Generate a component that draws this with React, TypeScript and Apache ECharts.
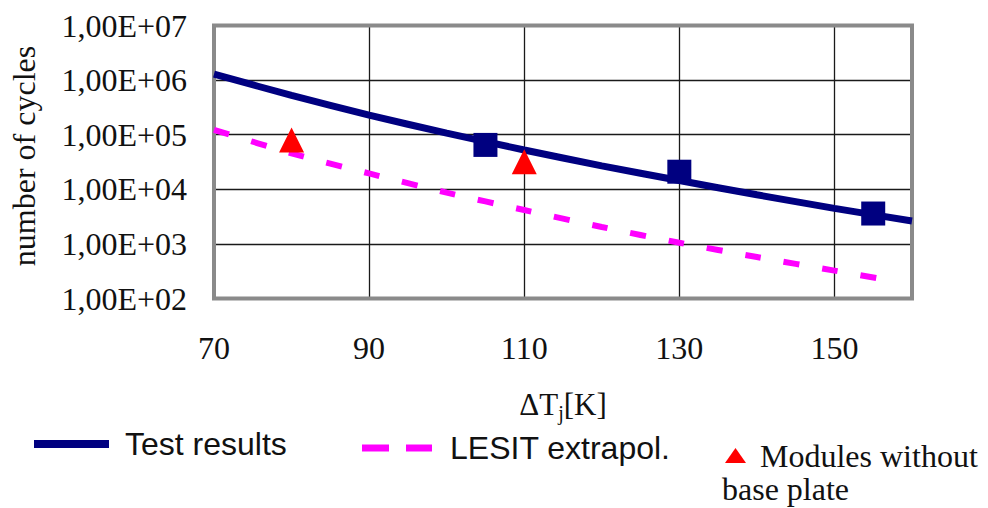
import React, { useEffect, useRef } from 'react';
import * as echarts from 'echarts';

// Test results: fitted life curve
const testFitX = [70, 80, 90, 100, 110, 120, 130, 140, 150, 160];
const testFitY = [1.29e6, 5.25e5, 2.29e5, 1.07e5, 5.25e4, 2.69e4, 1.45e4, 7.94e3, 4.47e3, 2.63e3];
// Test results: measured points (squares)
const testPointX = [105, 130, 155];
const testPointY = [6.5e4, 2.1e4, 3.6e3];
// LESIT extrapolation (dashed)
const lesitX = [70, 80, 90, 100, 110, 120, 130, 140, 150, 156];
const lesitY = [1.23e5, 4.57e4, 1.95e4, 8.7e3, 4.17e3, 2.04e3, 1.05e3, 575, 324, 229];
// Modules without base plate (triangles)
const noBaseX = [80, 110];
const noBaseY = [8.0e4, 3.2e4];

const xTickLabels = ['70', '90', '110', '130', '150'];
const yTickLabels = ['1,00E+02', '1,00E+03', '1,00E+04', '1,00E+05', '1,00E+06', '1,00E+07'];

const SERIF = 'Liberation Serif';
const SANS = 'Liberation Sans';

export default function App() {
  const ref = useRef<HTMLDivElement>(null);
  useEffect(() => {
    if (!ref.current) return;
    const chart = echarts.init(ref.current, undefined, { renderer: 'svg' });
    const zip = (xs: number[], ys: number[]) => xs.map((x, i) => [x, ys[i]]);
    const legendItemStyle = (color: string) => ({
      color,
      borderWidth: 0,
      borderColor: 'transparent',
      borderType: 'solid',
      opacity: 1,
    });
    const option: any = {
      animation: false,
      backgroundColor: '#ffffff',
      grid: {
        left: 211,
        right: 76,
        top: 25.5,
        bottom: 209.5,
        show: true,
        borderColor: '#8a8a8a',
        borderWidth: 4,
        backgroundColor: 'transparent',
        z: 3,
      },
      xAxis: {
        type: 'value',
        min: 70,
        max: 160,
        interval: 20,
        axisLine: { show: false },
        axisTick: { show: false },
        splitLine: { show: true, lineStyle: { color: '#1a1a1a', width: 1.3 } },
        axisLabel: {
          margin: 33,
          fontFamily: SERIF,
          fontSize: 32,
          color: '#111',
          formatter: (v: number) => (xTickLabels.includes(String(v)) ? String(v) : ''),
        },
        name: '{a|ΔT}{b|j}{a|[K]}',
        nameLocation: 'middle',
        nameGap: 88,
        nameTextStyle: {
          rich: {
            a: { fontFamily: SERIF, fontSize: 31, color: '#111', lineHeight: 36, verticalAlign: 'middle' },
            b: { fontFamily: SERIF, fontSize: 20, color: '#111', lineHeight: 36, verticalAlign: 'bottom' },
          },
        },
      },
      yAxis: {
        type: 'log',
        logBase: 10,
        min: 100,
        max: 1e7,
        axisLine: { show: false },
        axisTick: { show: false },
        splitLine: { show: true, lineStyle: { color: '#1a1a1a', width: 1.3 } },
        axisLabel: {
          margin: 27,
          fontFamily: SERIF,
          fontSize: 32,
          color: '#111',
          formatter: (v: number) => {
            const e = Math.round(Math.log10(v));
            return yTickLabels[e - 2] ?? '';
          },
        },
        name: 'number of cycles',
        nameLocation: 'middle',
        nameRotate: 90,
        nameGap: 174,
        nameTextStyle: { fontFamily: SERIF, fontSize: 32, color: '#111', padding: [0, 0, 0, 12] },
      },
      legend: [
        {
          data: ['Test results'],
          left: 34,
          top: 421,
          padding: 0,
          selectedMode: false,
          icon: 'rect',
          itemWidth: 75,
          itemHeight: 8,
          itemStyle: legendItemStyle('#000080'),
          textStyle: { fontFamily: SANS, fontSize: 32, color: '#111', lineHeight: 36, padding: [0, 0, 10, 11] },
        },
        {
          data: ['LESIT extrapol.'],
          left: 362,
          top: 426,
          padding: 0,
          selectedMode: false,
          icon: 'rect',
          itemWidth: 70,
          itemHeight: 7,
          itemStyle: legendItemStyle('rgba(0,0,0,0)'),
          textStyle: { fontFamily: SANS, fontSize: 32, color: '#111', lineHeight: 36, padding: [0, 0, 8, 13] },
        },
        {
          data: ['Modules without base plate'],
          left: 725,
          top: 434.5,
          padding: 0,
          selectedMode: false,
          icon: 'triangle',
          itemWidth: 21,
          itemHeight: 15,
          itemStyle: legendItemStyle('#ff0000'),
          formatter: () => 'Modules without',
          textStyle: { fontFamily: SERIF, fontSize: 32, color: '#111', lineHeight: 36, padding: [0, 0, 6, 9] },
        },
      ],
      graphic: [
        // dashed legend key for "LESIT extrapol."
        { type: 'rect', left: 362, top: 444.5, shape: { width: 27, height: 7 }, style: { fill: '#ff00ff' } },
        { type: 'rect', left: 406, top: 444.5, shape: { width: 26, height: 7 }, style: { fill: '#ff00ff' } },
        {
          type: 'text',
          left: 722,
          top: 473,
          style: { text: 'base plate', fontFamily: SERIF, fontSize: 32, fill: '#111' },
        },
      ],
      series: [
        {
          name: 'LESIT extrapol.',
          type: 'line',
          data: zip(lesitX, lesitY),
          showSymbol: false,
          symbol: 'none',
          smooth: 0.3,
          color: '#ff00ff',
          lineStyle: { color: '#ff00ff', width: 6, type: [16, 23], cap: 'butt' },
          z: 4,
        },
        {
          name: 'Test results',
          type: 'line',
          data: zip(testFitX, testFitY),
          showSymbol: false,
          symbol: 'none',
          smooth: 0.3,
          color: '#000080',
          lineStyle: { color: '#000080', width: 7 },
          z: 5,
        },
        {
          name: 'Test points',
          type: 'scatter',
          data: zip(testPointX, testPointY),
          symbol: 'rect',
          symbolSize: 24,
          itemStyle: { color: '#000080', opacity: 1 },
          z: 6,
        },
        {
          name: 'Modules without base plate',
          type: 'scatter',
          data: zip(noBaseX, noBaseY),
          symbol: 'triangle',
          symbolSize: 25,
          color: '#ff0000',
          itemStyle: { color: '#ff0000', opacity: 1 },
          z: 7,
        },
      ],
    };
    chart.setOption(option);
    return () => chart.dispose();
  }, []);
  return (
    <div
      ref={ref}
      style={{ position: 'fixed', left: 0, top: 0, width: 988, height: 508, background: '#fff' }}
    />
  );
}
